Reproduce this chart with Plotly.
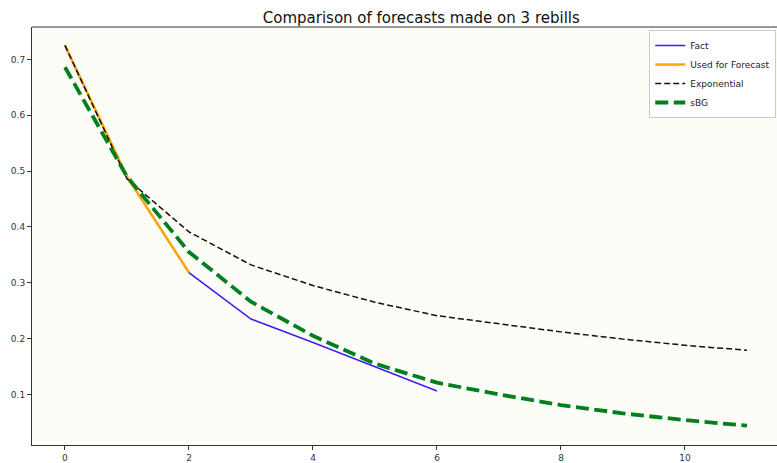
import plotly.graph_objects as go

# ---- data ----
fact_x = [0, 1, 2, 3, 4, 5, 6]
fact_y = [0.725, 0.490, 0.318, 0.235, 0.193, 0.149, 0.106]

used_x = [0, 1, 2]
used_y = [0.725, 0.490, 0.318]

exp_x = [0, 1, 2, 3, 4, 5, 6, 7, 8, 9, 10, 11]
exp_y = [0.725, 0.486, 0.391, 0.332, 0.295, 0.265, 0.241, 0.226, 0.212, 0.199, 0.188, 0.179]

sbg_x = [0, 1, 2, 3, 4, 5, 6, 7, 8, 9, 10, 11]
sbg_y = [0.686, 0.490, 0.355, 0.266, 0.205, 0.155, 0.121, 0.100, 0.081, 0.066, 0.054, 0.044]

title_text = "Comparison of forecasts made on 3 rebills"

fig = go.Figure()
fig.add_trace(go.Scatter(x=fact_x, y=fact_y, mode="lines", name="Fact",
                         line=dict(color="#3d1ff0", width=1.5)))
fig.add_trace(go.Scatter(x=used_x, y=used_y, mode="lines", name="Used for Forecast",
                         line=dict(color="#ffa500", width=2.5)))
fig.add_trace(go.Scatter(x=exp_x, y=exp_y, mode="lines", name="Exponential",
                         line=dict(color="#111111", width=1.5, dash="6px,3px")))
fig.add_trace(go.Scatter(x=sbg_x, y=sbg_y, mode="lines", name="sBG",
                         line=dict(color="#007f1f", width=3.8, dash="13px,5.5px")))

W, H = 777, 463
ml, mr, mt, mb = 32, 0, 27, 16

fig.update_layout(
    width=W, height=H,
    margin=dict(l=ml, r=mr, t=mt, b=mb),
    paper_bgcolor="white",
    plot_bgcolor="#fdfdf8",
    font=dict(family="DejaVu Sans", size=9, color="#333333"),
    title=dict(text=title_text, x=(406) / W, xanchor="center", xref="paper",
               y=1 - 18 / H, yanchor="middle",
               font=dict(size=15, color="#111111", family="DejaVu Sans")),
    showlegend=True,
    legend=dict(x=0.999, xanchor="right",
                y=1 - 3 / (H - mt - mb), yanchor="top",
                bgcolor="rgba(255,255,255,0.9)", bordercolor="#cccccc", borderwidth=1,
                font=dict(size=9, color="#222222"), tracegroupgap=0,
                itemwidth=30),
    xaxis=dict(range=[-0.532, 11.484], tickmode="array", tickvals=[0, 2, 4, 6, 8, 10],
               showgrid=False, zeroline=False, showline=True, linecolor="#333333",
               linewidth=1, ticks="outside", ticklen=4, tickcolor="#333333"),
    yaxis=dict(range=[0.0094, 0.758], tickmode="array",
               tickvals=[0.1, 0.2, 0.3, 0.4, 0.5, 0.6, 0.7],
               ticktext=["0.1", "0.2", "0.3", "0.4", "0.5", "0.6", "0.7"],
               showgrid=False, zeroline=False, showline=True, linecolor="#333333",
               linewidth=1, ticks="outside", ticklen=4, tickcolor="#333333"),
    shapes=[dict(type="line", xref="paper", yref="paper", x0=0, x1=1, y0=1, y1=1,
                 line=dict(color="#333333", width=1))],
)

fig.write_html("out.html")
